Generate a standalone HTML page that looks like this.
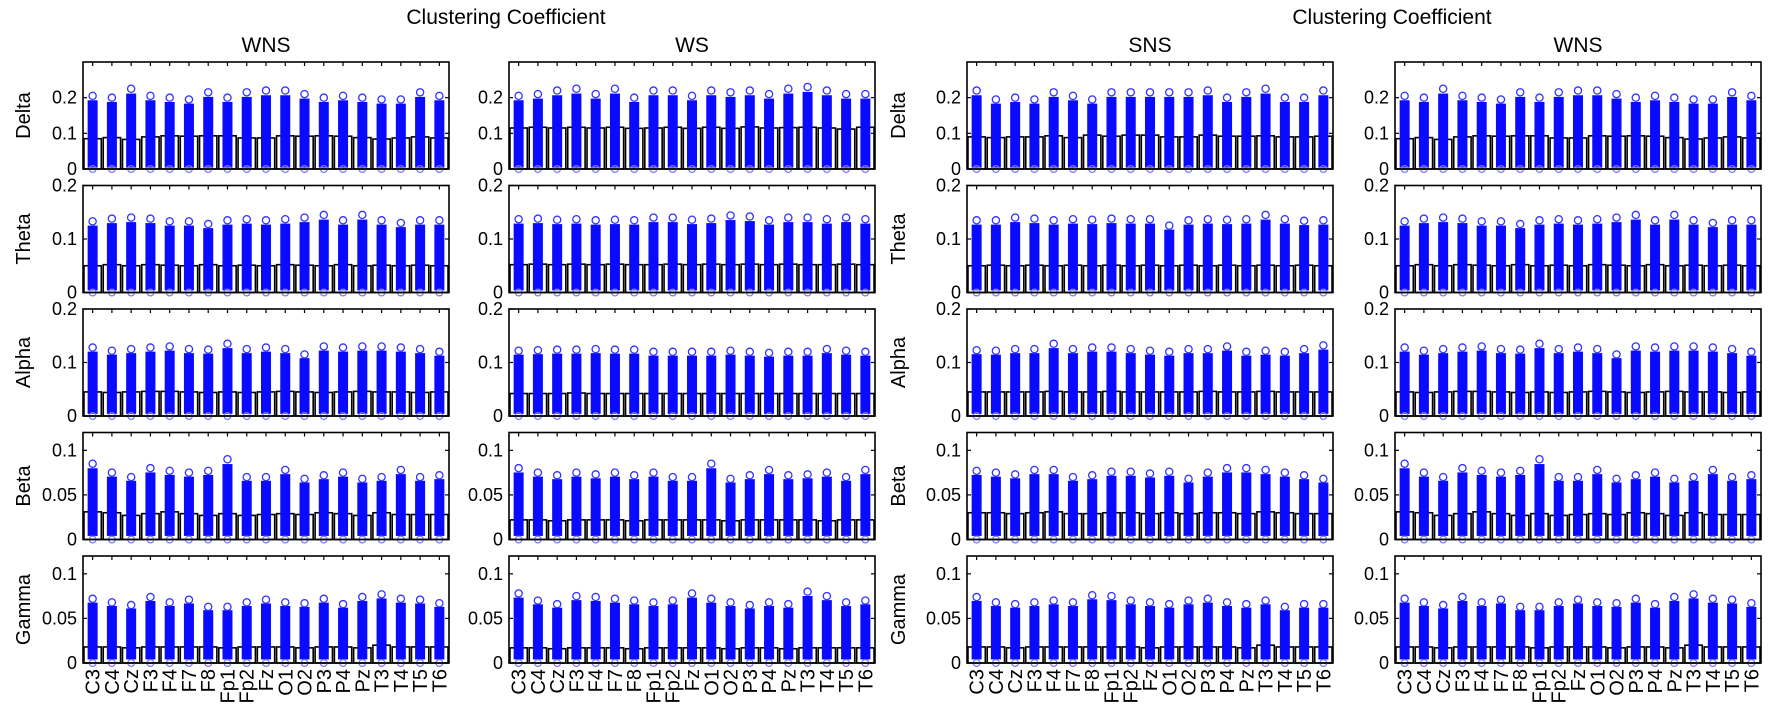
<!DOCTYPE html>
<html><head><meta charset="utf-8"><style>
body{margin:0;background:#fff;}
svg{display:block;font-family:"Liberation Sans",sans-serif;}
</style></head><body>
<svg id="fig" width="1772" height="712"></svg>
<script>
const categories=["C3","C4","Cz","F3","F4","F7","F8","Fp1","Fp2","Fz","O1","O2","P3","P4","Pz","T3","T4","T5","T6"];
const panelTitles=["WNS","WS","SNS","WNS"];
const bands=["Delta","Theta","Alpha","Beta","Gamma"];
const yMaxByBand=[0.3,0.2,0.2,0.12,0.12];
const yTicksByBand=[[0,0.1,0.2],[0,0.1,0.2],[0,0.1,0.2],[0,0.05,0.1],[0,0.05,0.1]];
// WNS
const wnsDeltaMean=[.085,.088,.083,.09,.093,.092,.093,.093,.087,.087,.093,.092,.093,.092,.088,.084,.087,.09,.087];
const wnsDeltaMax=[.205,.2,.225,.205,.2,.195,.215,.2,.215,.22,.22,.21,.2,.205,.2,.195,.195,.215,.205];
const wnsThetaMean=[.05,.052,.05,.052,.051,.05,.052,.05,.051,.05,.052,.051,.05,.052,.05,.051,.05,.051,.05];
const wnsThetaMax=[.133,.138,.14,.138,.133,.133,.128,.135,.137,.135,.137,.14,.145,.135,.145,.135,.13,.135,.135];
const wnsAlphaMean=[.045,.044,.045,.046,.046,.045,.044,.045,.044,.045,.046,.045,.044,.045,.046,.045,.045,.044,.045];
const wnsAlphaMax=[.128,.122,.125,.128,.13,.125,.124,.135,.125,.128,.125,.115,.13,.128,.13,.13,.128,.125,.12];
const wnsBetaMean=[.031,.03,.027,.029,.031,.029,.027,.029,.027,.028,.029,.028,.03,.029,.027,.03,.028,.028,.028];
const wnsBetaMax=[.085,.075,.07,.08,.077,.075,.077,.09,.07,.07,.078,.068,.072,.075,.068,.07,.078,.07,.072];
const wnsGammaMean=[.018,.018,.017,.018,.018,.018,.018,.017,.018,.018,.018,.017,.018,.018,.017,.02,.018,.018,.018];
const wnsGammaMax=[.072,.068,.065,.074,.068,.071,.063,.063,.068,.071,.068,.067,.072,.066,.074,.077,.072,.071,.067];
// WS
const wsDeltaMean=[.115,.117,.115,.117,.115,.117,.114,.115,.117,.114,.117,.114,.118,.115,.116,.117,.115,.112,.117];
const wsDeltaMax=[.205,.21,.22,.225,.21,.225,.2,.22,.22,.205,.22,.215,.22,.21,.225,.23,.22,.21,.21];
const wsThetaMean=[.052,.053,.052,.053,.052,.053,.052,.052,.053,.052,.053,.052,.053,.052,.053,.052,.052,.053,.052];
const wsThetaMax=[.137,.138,.136,.137,.135,.136,.135,.14,.14,.136,.138,.144,.142,.135,.14,.14,.137,.14,.137];
const wsAlphaMean=[.042,.042,.042,.043,.042,.042,.042,.042,.042,.042,.042,.042,.042,.042,.042,.042,.042,.042,.042];
const wsAlphaMax=[.122,.123,.124,.124,.125,.124,.124,.12,.12,.12,.12,.122,.12,.118,.12,.12,.125,.122,.12];
const wsBetaMean=[.022,.022,.021,.022,.022,.022,.021,.022,.022,.022,.022,.021,.022,.022,.022,.022,.021,.022,.022];
const wsBetaMax=[.08,.075,.072,.075,.073,.075,.072,.075,.07,.07,.085,.068,.072,.078,.072,.073,.075,.07,.078];
const wsGammaMean=[.017,.017,.016,.017,.017,.017,.016,.017,.017,.017,.017,.016,.017,.017,.016,.017,.017,.017,.017];
const wsGammaMax=[.078,.07,.066,.075,.074,.072,.07,.068,.07,.078,.072,.068,.065,.068,.066,.08,.075,.068,.07];
// SNS
const snsDeltaMean=[.09,.088,.09,.09,.093,.088,.095,.092,.095,.095,.09,.09,.095,.092,.092,.093,.09,.09,.092];
const snsDeltaMax=[.22,.195,.2,.195,.215,.205,.195,.215,.215,.215,.215,.215,.22,.2,.215,.225,.2,.2,.22];
const snsThetaMean=[.05,.051,.05,.051,.05,.051,.05,.051,.05,.051,.05,.051,.05,.051,.05,.051,.05,.051,.05];
const snsThetaMax=[.135,.135,.14,.138,.135,.137,.136,.138,.137,.137,.125,.135,.137,.136,.137,.145,.137,.134,.135];
const snsAlphaMean=[.045,.045,.045,.045,.046,.045,.045,.046,.045,.045,.045,.045,.046,.045,.045,.046,.045,.045,.045];
const snsAlphaMax=[.123,.122,.125,.125,.135,.125,.128,.128,.125,.122,.12,.125,.125,.13,.12,.122,.12,.125,.132];
const snsBetaMean=[.03,.03,.029,.03,.031,.029,.029,.03,.03,.029,.03,.029,.03,.03,.029,.031,.03,.029,.029];
const snsBetaMax=[.077,.075,.073,.078,.078,.07,.072,.076,.076,.074,.076,.068,.075,.08,.08,.078,.075,.072,.068];
const snsGammaMean=[.018,.018,.017,.018,.018,.018,.018,.018,.018,.017,.018,.018,.018,.018,.017,.02,.018,.018,.018];
const snsGammaMax=[.074,.068,.066,.068,.07,.068,.076,.075,.07,.068,.066,.07,.072,.068,.066,.07,.063,.066,.066];
const panelMeans=[
 [wnsDeltaMean,wnsThetaMean,wnsAlphaMean,wnsBetaMean,wnsGammaMean],
 [wsDeltaMean,wsThetaMean,wsAlphaMean,wsBetaMean,wsGammaMean],
 [snsDeltaMean,snsThetaMean,snsAlphaMean,snsBetaMean,snsGammaMean],
 [wnsDeltaMean,wnsThetaMean,wnsAlphaMean,wnsBetaMean,wnsGammaMean]];
const panelMaxes=[
 [wnsDeltaMax,wnsThetaMax,wnsAlphaMax,wnsBetaMax,wnsGammaMax],
 [wsDeltaMax,wsThetaMax,wsAlphaMax,wsBetaMax,wsGammaMax],
 [snsDeltaMax,snsThetaMax,snsAlphaMax,snsBetaMax,snsGammaMax],
 [wnsDeltaMax,wnsThetaMax,wnsAlphaMax,wnsBetaMax,wnsGammaMax]];

const NS="http://www.w3.org/2000/svg";
const svg=document.getElementById('fig');
function mk(tag,attrs,parent){const e=document.createElementNS(NS,tag);for(const k in attrs)e.setAttribute(k,attrs[k]);(parent||svg).appendChild(e);return e;}
const panelX=[83,509,967,1395];
const panelW=366;
const rowTop=[62,185.5,309,432.5,556];
const rowH=107;

function fmt(v){return v===0?"0":String(v).replace(/^0(?=\.)/,"0");}

// super titles
[[506,"Clustering Coefficient"],[1392,"Clustering Coefficient"]].forEach(([x,t])=>{
  const e=mk('text',{x:x,y:24,'text-anchor':'middle','font-size':21});e.textContent=t;
  
  
});

for(let p=0;p<4;p++){
  const px=panelX[p];
  const pg=mk('g',{});
  
  
  const tt=mk('text',{x:px+panelW/2,y:52,'text-anchor':'middle','font-size':21},pg);tt.textContent=panelTitles[p];
  
  
  const n=categories.length;
  const xs=i=>px+(i+0.5)*panelW/n;
  const bw=panelW/n*0.9;
  for(let r=0;r<5;r++){
    const top=rowTop[r],bot=top+rowH,ym=yMaxByBand[r];
    const ys=v=>bot-v/ym*rowH;
    const g=mk('g',{},pg);
    
    
    const means=panelMeans[p][r],maxes=panelMaxes[p][r];
    for(let i=0;i<n;i++){
      const b=mk('rect',{x:xs(i)-bw/2,y:ys(means[i]),width:bw,height:bot-ys(means[i]),fill:'none',stroke:'#000','stroke-width':1.6},g);
      
      
      const c=mk('rect',{x:xs(i)-5,y:ys(maxes[i]*0.94),width:10,height:ys(0.004)-ys(maxes[i]*0.94),fill:'#0a0aff'},g);
      
      
      const tc=mk('circle',{cx:xs(i),cy:ys(maxes[i]),r:3.6,fill:'none',stroke:'#3333ff','stroke-width':1.3},g);
      
      
      const bc=mk('circle',{cx:xs(i),cy:bot,r:3.4,fill:'none',stroke:'#7777ff','stroke-width':1.2},g);
      
      
      mk('line',{x1:xs(i),x2:xs(i),y1:top,y2:top+4,stroke:'#000','stroke-width':1.2},g);
    }
    const fr=mk('rect',{x:px,y:top,width:panelW,height:rowH,fill:'none',stroke:'#000','stroke-width':1.6},g);
    
    
    yTicksByBand[r].forEach(v=>{
      const y=ys(v);
      mk('line',{x1:px,x2:px+4,y1:y,y2:y,stroke:'#000','stroke-width':1.2},g);
      mk('line',{x1:px+panelW-4,x2:px+panelW,y1:y,y2:y,stroke:'#000','stroke-width':1.2},g);
      const t=mk('text',{x:px-6,y:y+6,'text-anchor':'end','font-size':18},g);t.textContent=fmt(v);
      
      
    });
    if(p===0||p===2){
      const cy=top+rowH/2;
      const lx=p===0?30:px-62;
      const t=mk('text',{x:lx,y:cy,'text-anchor':'middle','font-size':20,transform:`rotate(-90 ${lx} ${cy})`},g);t.textContent=bands[r];
      
      
    }
    if(r===4){
      for(let i=0;i<n;i++){
        const x=xs(i)+7,y=bot+6;
        const t=mk('text',{x:x,y:y,'text-anchor':'end','font-size':20,transform:`rotate(-90 ${x} ${y})`},g);t.textContent=categories[i];
        
        
      }
    }
  }
}
</script>
</body></html>
